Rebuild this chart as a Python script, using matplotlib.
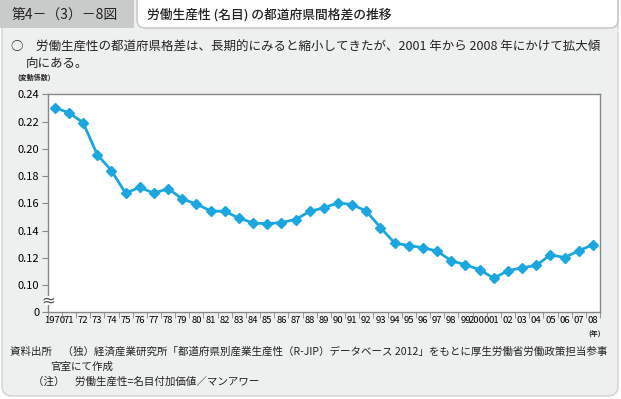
import numpy as np
import matplotlib.pyplot as plt
from matplotlib.patches import FancyBboxPatch, Rectangle

plt.rcParams['font.family'] = ['Noto Sans CJK JP', 'DejaVu Sans']

# data
years = list(range(1970, 2009))
year_labels = ["1970"] + [f"{y % 100:02d}" for y in range(1971, 2000)] + ["2000"] + \
    [f"{y % 100:02d}" for y in range(2001, 2009)]
cv = [0.2302, 0.2265, 0.2192, 0.1957, 0.1840, 0.1674, 0.1718, 0.1674, 0.1708, 0.1633,
      0.1594, 0.1545, 0.1540, 0.1493, 0.1455, 0.1450, 0.1459, 0.1481, 0.1540, 0.1567,
      0.1603, 0.1591, 0.1542, 0.1422, 0.1308, 0.1290, 0.1274, 0.1249, 0.1178, 0.1149,
      0.1112, 0.1051, 0.1105, 0.1127, 0.1144, 0.1222, 0.1202, 0.1252, 0.1296]
ytick_vals = [0.08, 0.10, 0.12, 0.14, 0.16, 0.18, 0.20, 0.22, 0.24]
ytick_labels = ["0", "0.10", "0.12", "0.14", "0.16", "0.18", "0.20", "0.22", "0.24"]

W, H = 621, 399
fig = plt.figure(figsize=(W / 100, H / 100), dpi=100)
fig.patch.set_facecolor("white")

# background panel and header
bg = fig.add_axes([0, 0, 1, 1])
bg.set_xlim(0, W)
bg.set_ylim(H, 0)
bg.axis("off")
bg.add_patch(FancyBboxPatch((2, -20), W - 5, H + 20 - 3, boxstyle="round,pad=0,rounding_size=10",
                            fc="#eeefef", ec="#d0d1d1", lw=1))
bg.add_patch(Rectangle((0, 0), 134, 28, fc="#c9caca", ec="none"))
bg.add_patch(FancyBboxPatch((137, -12), W - 140, 40, boxstyle="round,pad=0,rounding_size=8",
                            fc="white", ec="#c9caca", lw=1.2))
bg.add_patch(Rectangle((130, 28.5), W - 132, 3, fc="#eeefef", ec="none"))
bg.text(12, 15, "第4－（3）－8図", fontsize=10, va="center", color="#222222")
bg.text(147, 15, "労働生産性 (名目) の都道府県間格差の推移", fontsize=9.2, va="center",
        color="#222222", fontweight="medium")
bg.text(11, 47, "○　労働生産性の都道府県格差は、長期的にみると縮小してきたが、2001 年から 2008 年にかけて拡大傾",
        fontsize=9.0, va="center", color="#222222")
bg.text(26, 63, "向にある。", fontsize=9.0, va="center", color="#222222")
bg.text(17, 77, "(変動係数)", fontsize=5, va="center", color="#222222", fontweight="bold")
bg.text(588, 334, "(年)", fontsize=5, va="center", color="#222222", fontweight="bold")
bg.text(10, 352, "資料出所　（独）経済産業研究所「都道府県別産業生産性（R-JIP）データベース 2012」をもとに厚生労働省労働政策担当参事",
        fontsize=7.55, va="center", color="#222222")
bg.text(50, 367, "官室にて作成", fontsize=7.55, va="center", color="#222222")
bg.text(33, 382, "（注）　労働生産性=名目付加価値／マンアワー", fontsize=7.55, va="center", color="#222222")

# chart
ax = fig.add_axes([47.7 / W, 1 - 312.3 / H, (600 - 47.7) / W, (312.3 - 94.3) / H])
ax.set_facecolor("white")
x = np.arange(len(years))
ax.plot(x, cv, color="#1ba6df", lw=2, marker="D", markersize=5, zorder=3)
ax.set_xlim(-0.5, len(years) - 0.5)
ax.set_ylim(0.08, 0.24)
ax.set_yticks(ytick_vals)
ax.set_yticklabels(ytick_labels, fontsize=8)
ax.set_xticks(x)
ax.set_xticklabels(year_labels, fontsize=6.8)
ax.set_xticks(np.arange(-0.5, len(years)), minor=True)
ax.tick_params(axis="x", which="major", length=0, pad=3)
ax.tick_params(axis="x", which="minor", length=4, color="#888888", direction="out")
ax.tick_params(axis="y", length=4, color="#888888", direction="out", pad=2)
for s in ax.spines.values():
    s.set_color("#888888")
    s.set_linewidth(1)

# axis break mark
ax.add_patch(Rectangle((-0.004, 0.0852), 0.008, 0.007, transform=ax.get_yaxis_transform(),
                       fc="white", ec="none", clip_on=False, zorder=5))
ax.text(0, 0.0885, "≈", transform=ax.get_yaxis_transform(), fontsize=12, ha="center",
        va="center", color="#555555", zorder=6, clip_on=False, family="DejaVu Sans")

fig.savefig("out.png", dpi=100)
plt.close("all")
